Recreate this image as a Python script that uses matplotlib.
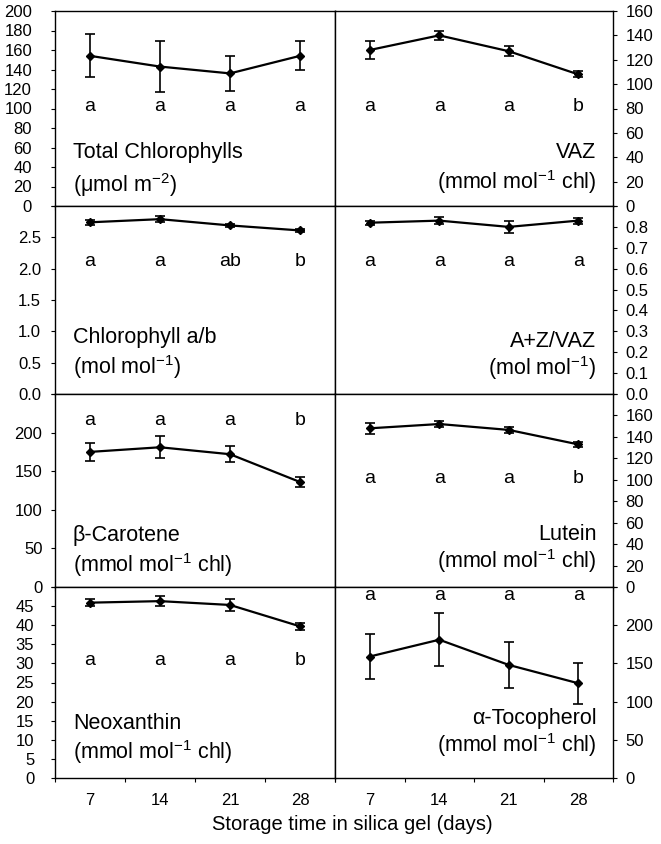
import matplotlib
matplotlib.use('Agg')
import matplotlib.pyplot as plt
import numpy as np

plt.rcParams['font.family'] = ['Liberation Sans', 'DejaVu Sans']
plt.rcParams['mathtext.fontset'] = 'custom'
plt.rcParams['mathtext.rm'] = 'Liberation Sans'
plt.rcParams['mathtext.it'] = 'Liberation Sans:italic'

# storage time (days)
days = ['7', '14', '21', '28']

# values (mean and +/- error)
tot_chl = [154, 143, 136, 154]
tot_chl_err = [22, 26, 18, 15]
tot_chl_let = ['a', 'a', 'a', 'a']

vaz = [128, 140, 127, 108]
vaz_err = [7, 3.5, 4, 2.5]
vaz_let = ['a', 'a', 'a', 'b']

chl_ab = [2.74, 2.79, 2.69, 2.61]
chl_ab_err = [0.04, 0.05, 0.03, 0.02]
chl_ab_let = ['a', 'a', 'ab', 'b']

az_vaz = [0.82, 0.83, 0.80, 0.83]
az_vaz_err = [0.01, 0.015, 0.027, 0.014]
az_vaz_let = ['a', 'a', 'a', 'a']

bcar = [175, 181, 172, 136]
bcar_err = [11.5, 14.5, 10, 6.5]
bcar_let = ['a', 'a', 'a', 'b']

lutein = [148, 152, 146.5, 133]
lutein_err = [5, 3, 2.5, 2]
lutein_let = ['a', 'a', 'a', 'b']

neox = [45.9, 46.3, 45.3, 39.7]
neox_err = [0.9, 1.3, 1.5, 0.9]
neox_let = ['a', 'a', 'a', 'b']

toc = [159, 181, 148, 124]
toc_err = [29, 35, 30, 27]
toc_let = ['a', 'a', 'a', 'a']

# row, col, values, err, letters, ymax, step, fmt, name, unit, letter_y, name_y, unit_y, pad
panels = [
    (0, 0, tot_chl, tot_chl_err, tot_chl_let, 200, 20, '%d', 'Total Chlorophylls',
     '(μmol m$^{-2}$)', 0.508, 0.272, 0.108, 13.5),
    (0, 1, vaz, vaz_err, vaz_let, 160, 20, '%d', 'VAZ',
     '(mmol mol$^{-1}$ chl)', 0.508, 0.272, 0.123, 6.0),
    (1, 0, chl_ab, chl_ab_err, chl_ab_let, 3.0, 0.5, '%.1f', 'Chlorophyll a/b',
     '(mol mol$^{-1}$)', 0.707, 0.298, 0.144, 7.0),
    (1, 1, az_vaz, az_vaz_err, az_vaz_let, 0.9, 0.1, '%.1f', 'A+Z/VAZ',
     '(mol mol$^{-1}$)', 0.707, 0.278, 0.138, 6.0),
    (2, 0, bcar, bcar_err, bcar_let, 250, 50, '%d', 'β-Carotene',
     '(mmol mol$^{-1}$ chl)', 0.865, 0.266, 0.114, 6.0),
    (2, 1, lutein, lutein_err, lutein_let, 180, 20, '%d', 'Lutein',
     '(mmol mol$^{-1}$ chl)', 0.56, 0.27, 0.132, 6.0),
    (3, 0, neox, neox_err, neox_let, 50, 5, '%d', 'Neoxanthin',
     '(mmol mol$^{-1}$ chl)', 0.614, 0.286, 0.138, 12.0),
    (3, 1, toc, toc_err, toc_let, 250, 50, '%d', 'α-Tocopherol',
     '(mmol mol$^{-1}$ chl)', 0.958, 0.31, 0.17, 6.0),
]

W, H = 661, 844
rows = [11, 206, 394, 587, 778]
cols = [55, 335, 613]

fig = plt.figure(figsize=(W / 100, H / 100), dpi=100)
x = np.arange(1, 5)

for (r, c, vals, err, lets, ymax, step, fmt, name, unit,
     let_y, name_y, unit_y, pad) in panels:
    x0, x1 = cols[c], cols[c + 1]
    y0, y1 = rows[r], rows[r + 1]
    ax = fig.add_axes([x0 / W, 1 - y1 / H, (x1 - x0) / W, (y1 - y0) / H])

    ax.errorbar(x, vals, yerr=err, color='k', marker='D', ms=4, lw=1.6,
                elinewidth=1.2, capsize=3.5, capthick=1.2)
    ax.set_xlim(0.5, 4.5)
    ax.set_ylim(0, ymax)

    yt = np.arange(0, ymax + step / 2, step)
    ylab = [fmt % v for v in yt]
    if r > 0:
        ylab[-1] = ''
    ax.set_yticks(yt)
    ax.set_yticklabels(ylab)

    ax.set_xticks([0.5, 1.5, 2.5, 3.5, 4.5])
    ax.set_xticklabels([])
    ax.set_xticks(x, minor=True)
    if r == 3:
        ax.set_xticklabels(days, minor=True)
    ax.tick_params(axis='x', which='minor', length=0, pad=11, labelsize=12)
    ax.tick_params(axis='x', which='major', direction='out', length=3, width=0.8)

    if c == 1:
        ax.yaxis.tick_right()
        ax.tick_params(axis='y', left=False, right=True)
    ax.tick_params(axis='y', direction='out', length=3, width=0.8,
                   labelsize=12, pad=pad)

    for s in ax.spines.values():
        s.set_linewidth(1.0)

    for xi, l in zip(x, lets):
        ax.text(xi, let_y, l, transform=ax.get_xaxis_transform(),
                ha='center', va='center', fontsize=14)

    if c == 0:
        tx, ha = 0.064, 'left'
    else:
        tx, ha = 0.94, 'right'
    ax.text(tx, name_y, name, transform=ax.transAxes, ha=ha, va='center', fontsize=15.5)
    ax.text(tx, unit_y, unit, transform=ax.transAxes, ha=ha, va='center', fontsize=15.5)

fig.text(352 / W, 1 - 825 / H, 'Storage time in silica gel (days)',
         ha='center', va='center', fontsize=14.5)

fig.savefig('out.png', dpi=100)
